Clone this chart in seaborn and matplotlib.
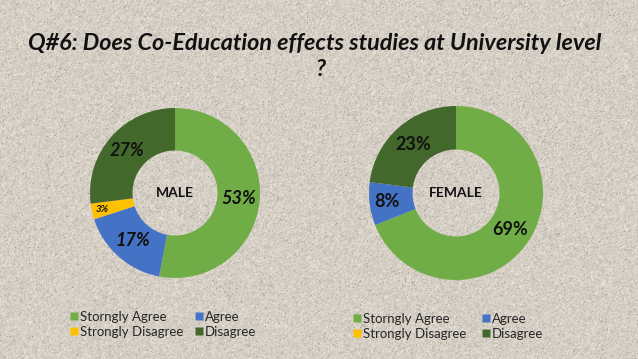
import numpy as np
import matplotlib
matplotlib.use("Agg")
import matplotlib.pyplot as plt
import seaborn as sns
from matplotlib.lines import Line2D

# Survey answers (percent)
categories = ["Storngly Agree", "Agree", "Strongly Disagree", "Disagree"]
male = [53, 17, 3, 27]
female = [69, 8, 0, 23]
colors = ["#70ad47", "#4472c4", "#ffc000", "#43682b"]
title = "Q#6: Does Co-Education effects studies at University level"

sns.set_theme(style="white")
plt.rcParams["font.family"] = ["Lato", "DejaVu Sans"]

W, H = 638, 359
fig = plt.figure(figsize=(W / 100, H / 100), dpi=100)

# stone-like textured background
rng = np.random.default_rng(3)
noise = rng.normal(0, 1, (H, W))
noise = (noise + np.roll(noise, 1, 0) + np.roll(noise, 1, 1)) / 3
base = np.array([214, 207, 198]) / 255
tex = base[None, None, :] + noise[:, :, None] * 0.05
speck = rng.random((H, W)) < 0.03
tex[speck] -= 0.12
bg = fig.add_axes([0, 0, 1, 1], zorder=-10)
bg.imshow(np.clip(tex, 0, 1), aspect="auto", interpolation="nearest")
bg.axis("off")

fig.text(315 / W, 1 - 43 / H, title, ha="center", va="center", fontsize=16.8,
         fontweight="bold", fontstyle="italic", color="#111111")
fig.text(320 / W, 1 - 70 / H, "?", ha="center", va="center", fontsize=16.8,
         fontweight="bold", fontstyle="italic", color="#111111")


def donut(cx, cy, r, values, name, italic):
    ax = fig.add_axes([(cx - r) / W, (H - cy - r) / H, 2 * r / W, 2 * r / H])
    wedges, _ = ax.pie(values, colors=colors, startangle=90, counterclock=False,
                       radius=1, wedgeprops=dict(width=0.5, edgecolor="none"))
    ax.set_xlim(-1, 1)
    ax.set_ylim(-1, 1)
    ax.set_aspect("auto")
    ax.axis("off")
    for w, v in zip(wedges, values):
        if v == 0:
            continue
        ang = np.deg2rad((w.theta1 + w.theta2) / 2)
        small = v < 5
        rr = 0.88 if small else (0.8 if v < 10 else 0.75)
        ax.text(rr * np.cos(ang), rr * np.sin(ang), f"{v}%", ha="center", va="center",
                fontsize=7 if small else 13, fontweight="bold",
                fontstyle="italic" if italic else "normal", color="#111111")
    ax.text(0, 0, name, ha="center", va="center", fontsize=10, fontweight="bold",
            color="#111111")
    return wedges


donut(175, 193, 85, male, "MALE", True)
donut(456, 193, 87, female, "FEMALE", False)


def legend(x, y, colsp):
    order = [0, 2, 1, 3]
    handles = [Line2D([], [], ls="none", marker="s", markersize=6,
                      markerfacecolor=colors[i], markeredgecolor="none") for i in order]
    labels = [categories[i] for i in order]
    fig.legend(handles, labels, ncol=2, loc="upper left", bbox_to_anchor=(x / W, 1 - y / H),
               frameon=False, fontsize=9.5, handlelength=0.6, handletextpad=0.15,
               columnspacing=colsp, labelspacing=0.2, borderaxespad=0, borderpad=0)


legend(70, 311, 0.9)
legend(353, 313, 1.2)

fig.savefig("out.png", dpi=100)
